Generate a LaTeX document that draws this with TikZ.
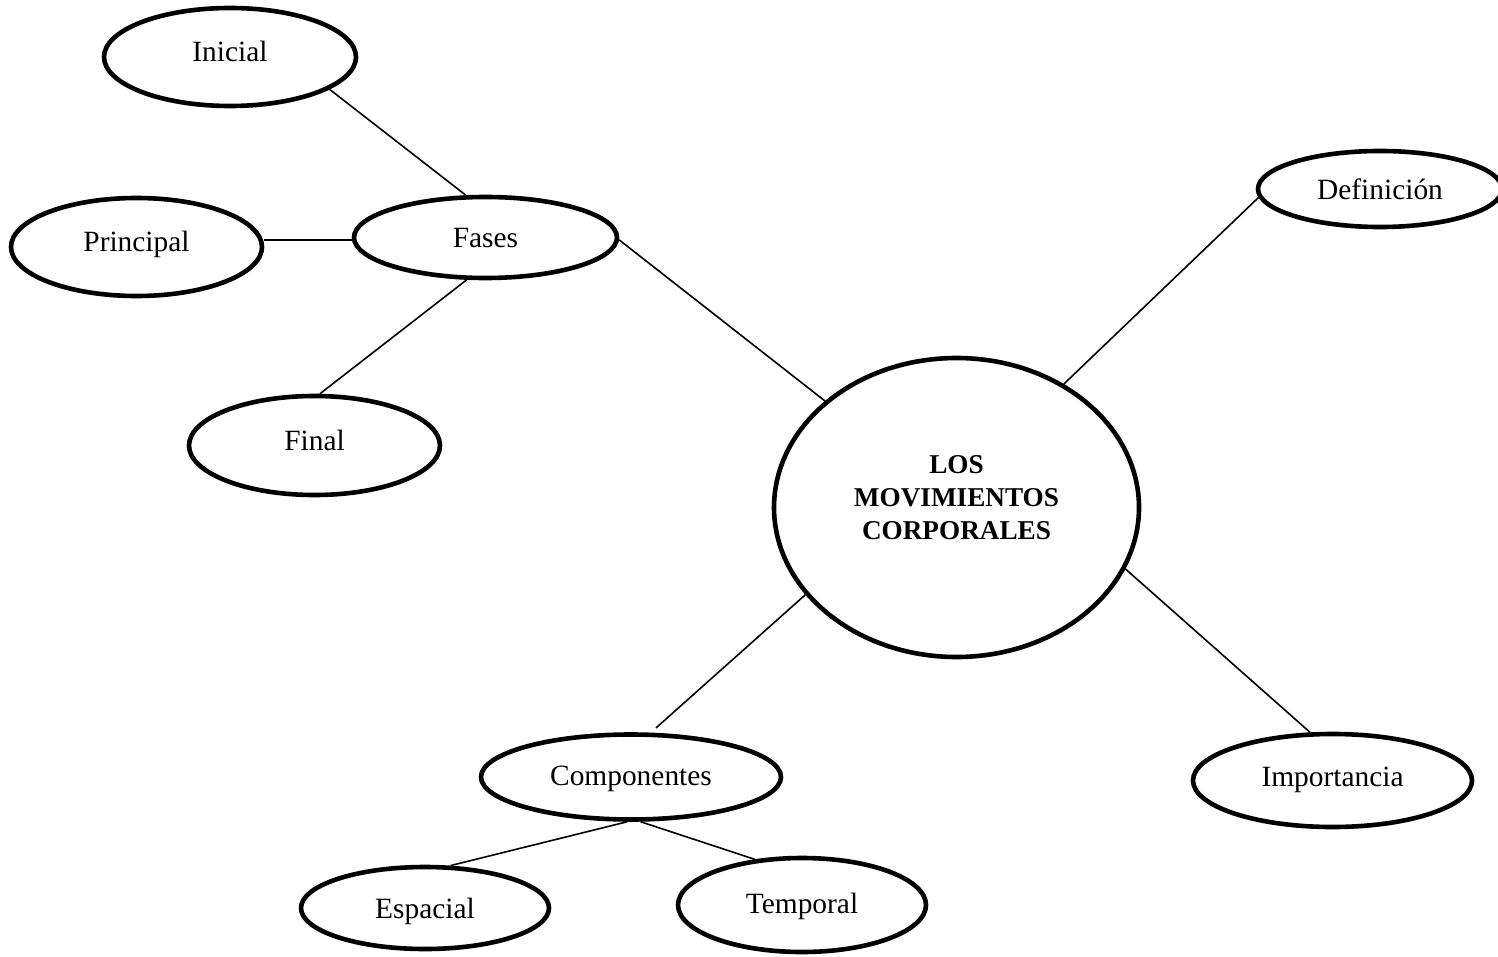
\documentclass[tikz,border=0pt]{standalone}
\usepackage{fontspec}
\setmainfont{Liberation Serif}
\usetikzlibrary{shapes.geometric}
\begin{document}
\begin{tikzpicture}[x=0.5pt,y=-0.5pt,
  ell/.style={ellipse, draw=black, line width=2.3pt, inner sep=0pt},
  lbl/.style={font=\fontsize{14.7}{17}\selectfont, text height=0.87em, text depth=0pt, inner sep=0pt},
  boldlbl/.style={font=\fontsize{13.6}{16.5}\selectfont\bfseries, align=center, inner sep=0pt},
  conn/.style={line width=0.8pt}]
\useasboundingbox (0,0) rectangle (1498,957);

\node[ell, minimum width=126pt, minimum height=49pt,
  label={[lbl,yshift=2pt]center:Inicial}] (inicial) at (230,57) {};
\node[ell, minimum width=125.5pt, minimum height=49pt,
  label={[lbl,yshift=2.2pt]center:Principal}] (principal) at (136.5,247) {};
\node[ell, minimum width=131.5pt, minimum height=40.5pt,
  label={[lbl,yshift=-0.7pt]center:Fases}] (fases) at (485.5,237.5) {};
\node[ell, minimum width=125.5pt, minimum height=49.5pt,
  label={[lbl,yshift=1.7pt]center:Final}] (final) at (314.5,445.5) {};
\node[ell, minimum width=182.5pt, minimum height=149.5pt,
  label={[boldlbl,yshift=5pt]center:{LOS\\MOVIMIENTOS\\CORPORALES}}] (central) at (956.5,507.5) {};
\node[ell, minimum width=122pt, minimum height=38pt,
  label={[lbl,yshift=-1pt]center:Definición}] (definicion) at (1380,189) {};
\node[ell, minimum width=139.5pt, minimum height=46.5pt,
  label={[lbl,yshift=1.2pt]center:Importancia}] (importancia) at (1332.5,780.5) {};
\node[ell, minimum width=150pt, minimum height=42.5pt,
  label={[lbl]center:Componentes}] (componentes) at (631,777) {};
\node[ell, minimum width=124pt, minimum height=41pt,
  label={[lbl,yshift=-0.7pt]center:Espacial}] (espacial) at (425,908) {};
\node[ell, minimum width=124pt, minimum height=47pt,
  label={[lbl]center:Temporal}] (temporal) at (802,905) {};

\draw[conn] (inicial.-18) -- (fases.115);
\draw[conn] (fases.181.4 -| principal.east) -- (fases.181.4);
\draw[conn] (fases.-114.6) -- (final.84);
\draw[conn] (fases.-1.9) -- (central.141);
\draw[conn] (central.49) -- (definicion.184.4);
\draw[conn] (central.-20.3) -- (importancia.115.3);
\draw[conn, shorten >=3.5pt] (central.-150.9) -- (componentes.66.3);
\draw[conn] (componentes.-95.1) -- (espacial.59.2);
\draw[conn] (componentes.-78.7) -- (temporal.136.8);
\end{tikzpicture}
\end{document}
